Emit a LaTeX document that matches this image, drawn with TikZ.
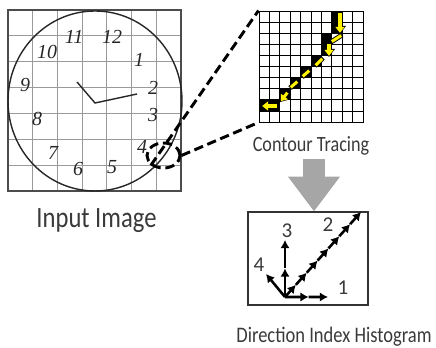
\documentclass[tikz,border=0pt]{standalone}
\usepackage{fontspec}
\setmainfont{Carlito}
\newfontfamily\handfont{Liberation Serif}
\usetikzlibrary{arrows.meta,shapes.geometric,calc}
\definecolor{txtgray}{HTML}{3A3A3A}
\definecolor{arrowgray}{HTML}{A6A6A6}
\definecolor{gridgray}{HTML}{9A9A9A}
\definecolor{traceyellow}{HTML}{FFF200}
\newcommand{\tallcap}[1]{\scalebox{1}[1.2]{#1}}
\tikzset{
  caption/.style={text=txtgray, inner sep=0pt, anchor=base},
  clocknum/.style={font=\handfont\itshape\fontsize{17}{17}\selectfont, text=black!85, inner sep=0pt},
  zoomline/.style={line width=2.5pt, dash pattern=on 8pt off 4pt},
  histarrow/.style={line width=2.2pt, -{Latex[length=7pt,width=8pt]}},
  histnum/.style={font=\fontsize{18}{18}\selectfont, text=txtgray, inner sep=0pt},
}
\begin{document}
\begin{tikzpicture}[x=0.03cm,y=-0.03cm]
    \useasboundingbox (0,0) rectangle (436,348);
    % input image
    \foreach \i in {1,...,6}{\draw[gridgray,line width=0.8pt] (8+\i*24.71,10) -- (8+\i*24.71,191);}
    \foreach \j in {1,...,6}{\draw[gridgray,line width=0.8pt] (8,10+\j*25.86) -- (181,10+\j*25.86);}
    \draw[black!70,line width=1.1pt] (8,10) rectangle (181,191);
    \draw[black!85,line width=1.2pt] (95,101) ellipse [x radius=87,y radius=90];
    \draw[black!85,line width=1.2pt] (77,82) -- (95,103) -- (137,94);
    \foreach \xp/\yp/\num in {74/37/11,112/37/12,139/60/1,47/52/10,25/85/9,153/88/2,
        37/119/8,153/115/3,53/153/7,142/147/4,78/169/6,112/167/5}{
        \node[clocknum] at (\xp,\yp) {\num};}
    \node[caption,font=\fontsize{21}{21}\selectfont] (inputcap) at (96.5,228) {\tallcap{Input Image}};
    \node[draw,ellipse,zoomline,minimum width=0.99cm,minimum height=0.75cm,inner sep=0pt] (lens) at (163.5,155.5) {};
    % contour tracing grid
    \node[draw,line width=0.8pt,minimum width=3.12cm,minimum height=3.33cm,inner sep=0pt] (trace) at (311,66.5) {};
    \foreach \c/\r in {7/0,7/1,6/2,6/3,5/4,4/5,3/6,2/7,1/8,0/8}{
        \fill (259+\c*10.4,11+\r*11.1) rectangle ++(10.4,11.1);}
    \foreach \i in {1,...,9}{\draw[line width=0.6pt] (259+\i*10.4,11) -- (259+\i*10.4,122);}
    \foreach \j in {1,...,9}{\draw[line width=0.6pt] (259,11+\j*11.1) -- (363,11+\j*11.1);}
    \foreach \xa/\ya/\xb/\yb in {340/12/340/34,329/43/329/57,288/92/280/102,278/106/261/106}{
        \draw[black,line width=4.2pt,-{Triangle[length=7pt,width=10pt]}] (\xa,\ya) -- (\xb,\yb);
        \draw[traceyellow,line width=2.6pt,shorten <=0.8pt,shorten >=1pt,-{Triangle[length=5pt,width=7.5pt]}] (\xa,\ya) -- (\xb,\yb);}
    \foreach \xa/\ya/\xb/\yb in {342/35/331/42,323/58/315/66,310/70/302/77,298/81/290/88}{
        \draw[black,line width=4.2pt] (\xa,\ya) -- (\xb,\yb);
        \draw[traceyellow,line width=2.6pt,shorten <=0.8pt,shorten >=0.8pt] (\xa,\ya) -- (\xb,\yb);}
    \draw[zoomline] (lens.south west) -- (trace.north west);
    \draw[zoomline] (lens.east) -- (trace.south west);
    \node[caption,font=\fontsize{15.5}{15.5}\selectfont] (tracecap) at (311,152) {\tallcap{Contour Tracing}};
    % direction histogram
    \node[draw,black!80,line width=0.9pt,minimum width=3.6cm,minimum height=2.79cm,inner sep=0pt] (hist) at (308,258.5) {};
    \coordinate (arrowtop) at (314,159);
    \draw[arrowgray,line width=18.7pt,-{Triangle[length=29.8pt,width=42.5pt]}] (arrowtop) -- (arrowtop |- hist.north);
    \coordinate (o) at (285,297);
    \coordinate (d1) at (328,297);
    \coordinate (d2) at (361,212);
    \coordinate (d3) at (285,240);
    \coordinate (d4) at (266,274);
    \foreach \k in {1,...,7}{\draw[histarrow] ($(o)!{(\k-1)/7}!(d2)$) -- ($(o)!{\k/7}!(d2)$);}
    \draw[histarrow] (o) -- ($(o)!0.55!(d1)$);
    \draw[histarrow] ($(o)!0.55!(d1)$) -- (d1);
    \draw[histarrow] (o) -- ($(o)!0.5!(d3)$);
    \draw[histarrow] ($(o)!0.5!(d3)$) -- (d3);
    \draw[histarrow] (o) -- (d4);
    \node[histnum] at (343,288) {1};
    \node[histnum] at (328,225) {2};
    \node[histnum] at (287,231) {3};
    \node[histnum] at (259,265) {4};
    \node[caption,font=\fontsize{15.8}{15.8}\selectfont] (histcap) at (334,343) {\tallcap{Direction Index Histogram}};
\end{tikzpicture}
\end{document}
